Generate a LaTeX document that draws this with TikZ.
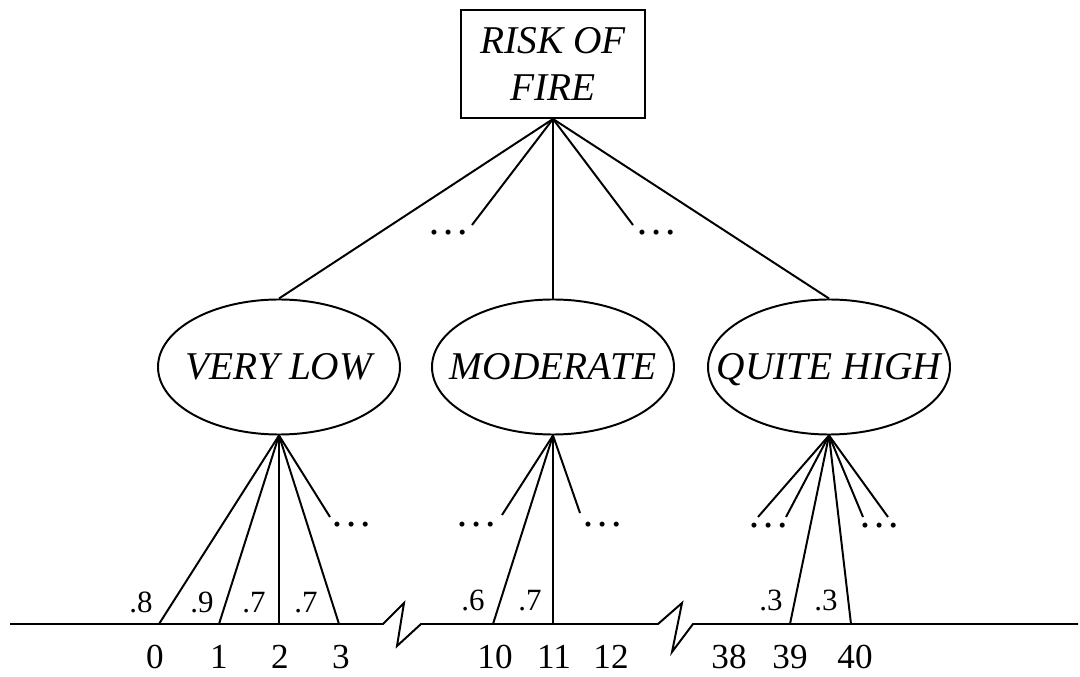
\documentclass[tikz,border=0pt]{standalone}
\usepackage{fontspec}
\setmainfont{Liberation Serif}
\usepackage{tikz}
\usetikzlibrary{shapes,arrows.meta}

\begin{document}
\begin{tikzpicture}[x=0.25mm,y=-0.25mm,line width=1.4pt]
\useasboundingbox (0,0) rectangle (1080,677);
		\begin{scope}
            [
                every node/.style={
					font=\itshape\fontsize{28}{33}\selectfont, inner sep=0pt},
				level/.style = {ellipse, draw, inner xsep=-7mm, text height=19.6pt, text depth=1.7pt, minimum width=60.5mm, minimum height=33.75mm},
				riskbox/.style = {rectangle, draw, align=center, minimum width=46mm, minimum height=27mm}
            ]
			\node(fire)[riskbox] at (553,64) {RISK OF\\FIRE};

			\node(low)[level] at (279,367) {VERY LOW};
			\node(mod)[level] at (553,367) {MODERATE};
			\node(high)[level] at (829,367) {QUITE HIGH};
		\end{scope}

		% loose ends of the omitted branches
		\coordinate (u1) at (472,225);
		\coordinate (u2) at (633,225);
		\coordinate (l1) at (330,517);
		\coordinate (m1) at (502,515);
		\coordinate (m2) at (580,513);
		\coordinate (h1) at (758,517);
		\coordinate (h2) at (786,517);
		\coordinate (h3) at (863,517);
		\coordinate (h4) at (888,517);

		% points on the axis
		\coordinate (g0) at (159,624);
		\coordinate (g1) at (219,624);
		\coordinate (g2) at (279,624);
		\coordinate (g3) at (339,624);
		\coordinate (g10) at (493,624);
		\coordinate (g11) at (553,624);
		\coordinate (g39) at (790,624);
		\coordinate (g40) at (851,624);

		\begin{scope}
            [
                every node/.style={inner sep=0pt, anchor=base},
				prob/.style = {font=\fontsize{22}{25}\selectfont},
				numlabel/.style = {font=\fontsize{25}{28}\selectfont},
				more/.style = {font=\fontsize{30}{30}\selectfont}
            ]
			\node(du1)[more] at (449,235) {\dots};
			\node(du2)[more] at (657,235) {\dots};
			\node(dl1)[more] at (352,527) {\dots};
			\node(dm1)[more] at (477,527) {\dots};
			\node(dm2)[more] at (603,527) {\dots};
			\node(dh1)[more] at (769,528) {\dots};
			\node(dh2)[more] at (880,528) {\dots};

			\node(p0)[prob] at (141,612) {.8};
			\node(p1)[prob] at (202,612) {.9};
			\node(p2)[prob] at (254,612) {.7};
			\node(p3)[prob] at (306,612) {.7};
			\node(p10)[prob] at (473,611) {.6};
			\node(p11)[prob] at (530,611) {.7};
			\node(p39)[prob] at (771,610) {.3};
			\node(p40)[prob] at (826,610) {.3};

			\node(n0)[numlabel] at (155,668) {0};
			\node(n1)[numlabel] at (219,668) {1};
			\node(n2)[numlabel] at (280,668) {2};
			\node(n3)[numlabel] at (341,668) {3};
			\node(n10)[numlabel] at (495,668) {10};
			\node(n11)[numlabel] at (554,668) {11};
			\node(n12)[numlabel] at (611,668) {12};
			\node(n38)[numlabel] at (729,668) {38};
			\node(n39)[numlabel] at (790,668) {39};
			\node(n40)[numlabel] at (855,668) {40};
		\end{scope}

		\path
		(fire.south) edge (low.north)
		(fire.south) edge (u1)
		(fire.south) edge (mod.north)
		(fire.south) edge (u2)
		(fire.south) edge (high.north)
		(low.south) edge (g0)
		(low.south) edge (g1)
		(low.south) edge (g2)
		(low.south) edge (g3)
		(low.south) edge (l1)
		(mod.south) edge (m1)
		(mod.south) edge (g10)
		(mod.south) edge (g11)
		(mod.south) edge (m2)
		(high.south) edge (h1)
		(high.south) edge (h2)
		(high.south) edge (g39)
		(high.south) edge (g40)
		(high.south) edge (h3)
		(high.south) edge (h4);

		% axis with two breaks
		\draw (10,624) -- (383,624) -- (404,603) -- (397,646) -- (421,624)
		  -- (658,624) -- (682,603) -- (672,652) -- (693,624) -- (1078,624);
    \end{tikzpicture}
\end{document}
